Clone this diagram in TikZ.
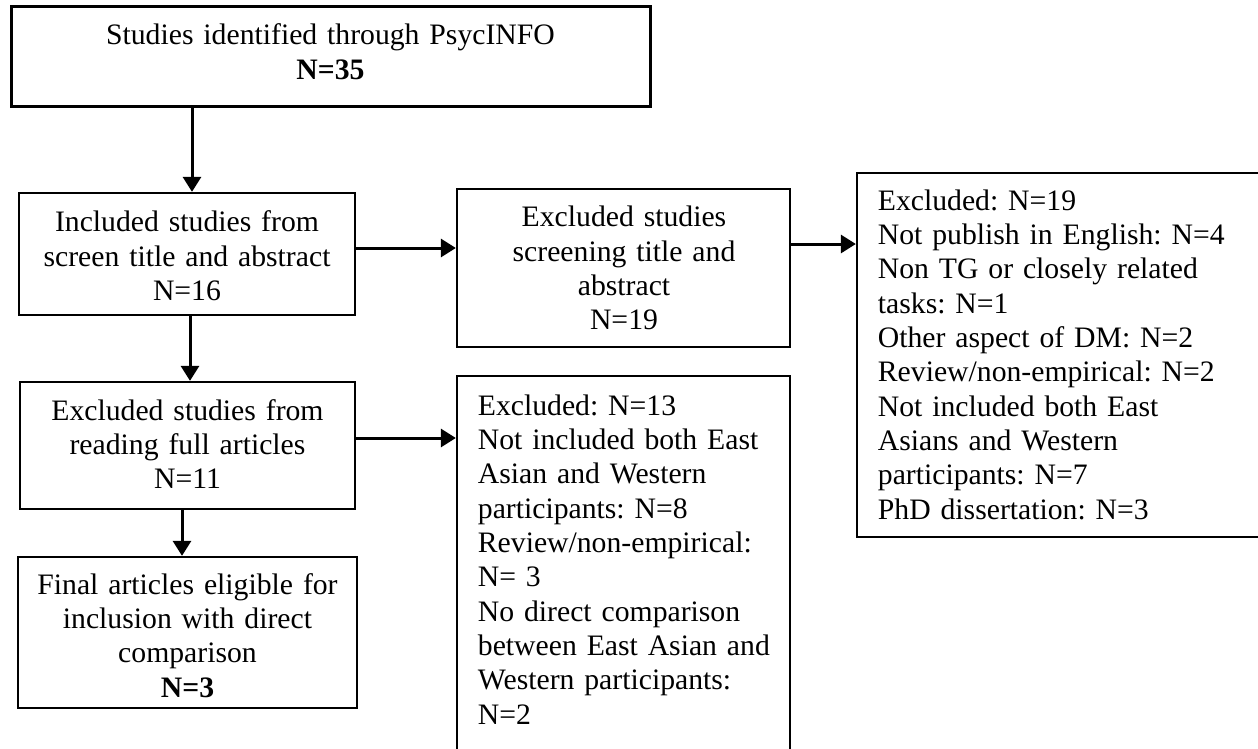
\documentclass[tikz,border=0pt]{standalone}
\usepackage{fontspec}
\setmainfont{Liberation Serif}
\usetikzlibrary{arrows.meta}

\tikzset{
  box/.style={draw=black, line width=2.3pt, fill=white, inner sep=0pt, anchor=center},
  topbox/.style={box, line width=3pt},
  label/.style={inner sep=0pt, font=\fontsize{29.7}{34.35}\selectfont\frenchspacing},
  midtext/.style={label, align=center, anchor=base},
  lefttext/.style={label, align=left, anchor=base west},
  flow/.style={line width=3pt, -{Triangle[length=15pt, width=18pt]}},
}

\begin{document}
\frenchspacing
\begin{tikzpicture}[x=1pt, y=-1pt]
  \useasboundingbox (0,0) rectangle (1258,749);
  \clip (0,0) rectangle (1258,749);
  \fill[white] (0,0) rectangle (1258,749);

  % boxes
  \node[topbox, minimum width=639pt, minimum height=100pt] (b1) at (330.5,57) {};
  \node[box, minimum width=336pt, minimum height=122pt] (b2) at (187,254) {};
  \node[box, minimum width=335pt, minimum height=127pt] (b3) at (187.5,445.5) {};
  \node[box, minimum width=339pt, minimum height=151pt] (b4) at (187.5,632.5) {};
  \node[box, minimum width=333pt, minimum height=158pt] (b5) at (623.5,268) {};
  \node[box, minimum width=333pt, minimum height=404pt] (b6) at (623.5,578) {};
  \node[box, minimum width=423pt, minimum height=364pt] (b7) at (1068.5,355) {};

  % box texts
  \node[midtext, text width=600pt] (t1) at (330.5,45)
    {Studies identified through PsycINFO\\\textbf{N=35}};
  \node[midtext, text width=320pt] (t2) at (187,231.7)
    {Included studies from\\screen title and abstract\\N=16};
  \node[midtext, text width=320pt] (t3) at (187.5,420)
    {Excluded studies from\\reading full articles\\N=11};
  \node[midtext, text width=320pt] (t4) at (187.5,594)
    {Final articles eligible for\\inclusion with direct\\comparison\\\textbf{N=3}};
  \node[midtext, text width=320pt] (t5) at (624,226.7)
    {Excluded studies\\screening title and\\abstract\\N=19};
  \node[lefttext, text width=310pt] (t6) at (477.7,415)
    {Excluded: N=13\\Not included both East\\Asian and Western\\participants: N=8\\Review/non-empirical:\\N= 3\\No direct comparison\\between East Asian and\\Western participants:\\N=2};
  \node[lefttext, text width=370pt] (t7) at (877.7,210)
    {Excluded: N=19\\Not publish in English: N=4\\Non TG or closely related\\tasks: N=1\\Other aspect of DM: N=2\\Review/non-empirical: N=2\\Not included both East\\Asians and Western\\participants: N=7\\PhD dissertation: N=3};

  % connector guide lines
  \coordinate (v1) at (192,0);
  \coordinate (v2) at (190,0);
  \coordinate (v3) at (182,0);
  \coordinate (h1) at (0,248);
  \coordinate (h2) at (0,438);
  \coordinate (h3) at (0,244);

  % connectors
  \draw[flow] (b1.south -| v1) -- (b2.north -| v1);
  \draw[flow] (b2.south -| v2) -- (b3.north -| v2);
  \draw[flow] (b3.south -| v3) -- (b4.north -| v3);
  \draw[flow] (b2.east |- h1) -- (b5.west |- h1);
  \draw[flow] (b3.east |- h2) -- (b6.west |- h2);
  \draw[flow] (b5.east |- h3) -- (b7.west |- h3);
\end{tikzpicture}
\end{document}
